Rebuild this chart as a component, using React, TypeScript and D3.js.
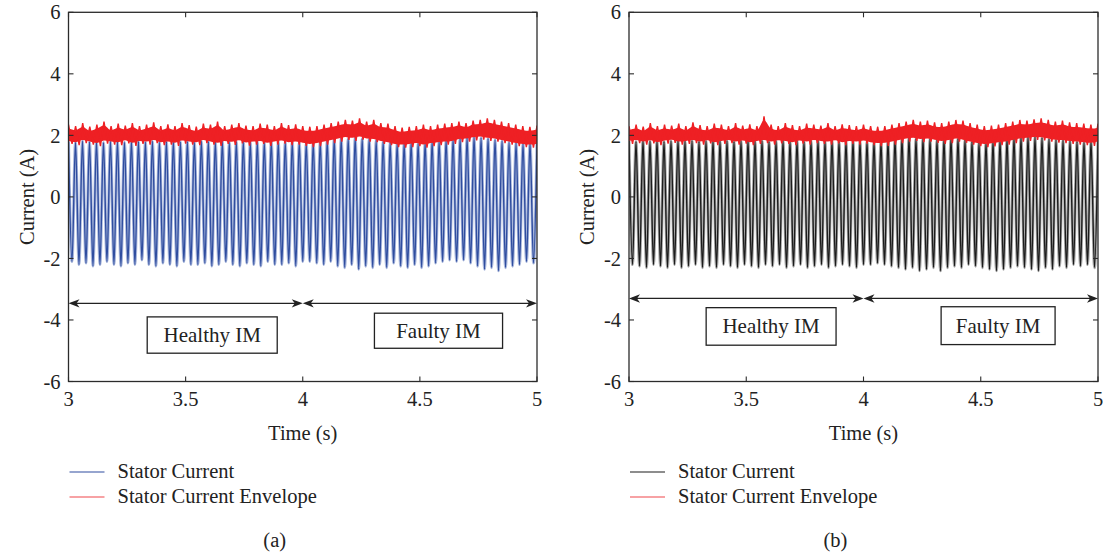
import React from "react";
import * as d3 from "d3";

// ---------- data ----------
const xTicks = [3, 3.5, 4, 4.5, 5];
const yTicks = [-6, -4, -2, 0, 2, 4, 6];
const tStart = 3;
const tEnd = 5;

// panel (a): per-cycle peaks / troughs of the stator current
const peaksA = [1.8,1.78,1.82,1.79,1.8,1.77,1.81,1.8,1.78,1.82,1.8,1.79,1.81,1.78,1.8,1.82,1.79,1.8,1.78,1.81,1.8,1.79,1.82,1.78,1.8,1.81,1.79,1.8,1.78,1.82,1.8,1.79,1.81,1.78,
  1.75,1.77,1.8,1.85,1.9,1.92,1.9,1.94,1.9,1.88,1.84,1.8,1.76,1.74,1.75,1.78,1.74,1.77,1.8,1.82,1.85,1.88,1.9,1.93,1.95,1.92,1.9,1.86,1.82,1.78,1.75,1.74,1.76];
const troughsA = [-2.1,-2.2,-2.15,-2.25,-2.2,-2.1,-2.2,-2.25,-2.15,-2.2,-2.05,-2.2,-2.25,-2.15,-2.2,-2.25,-2.1,-2.2,-2.2,-2.15,-2.25,-2.2,-2.1,-2.2,-2.25,-2.15,-2.2,-2.25,-2.1,-2.2,-2.2,-2.15,-2.25,-2.1,
  -2.1,-2.15,-2.2,-2.1,-2.25,-2.3,-2.2,-2.35,-2.25,-2.3,-2.2,-2.3,-2.15,-2.25,-2.3,-2.2,-2.3,-2.25,-2.15,-2.1,-2.05,-2.1,-2.05,-2.15,-2.25,-2.35,-2.3,-2.4,-2.3,-2.25,-2.2,-2.1,-2.15];
// panel (a): envelope upper / lower edges
const envHiA = [2.35,2.3,2.4,2.28,2.35,2.45,2.3,2.38,2.32,2.4,2.3,2.35,2.42,2.3,2.36,2.3,2.4,2.33,2.28,2.38,2.35,2.45,2.3,2.35,2.4,2.32,2.3,2.38,2.35,2.3,2.4,2.33,2.36,2.3,
  2.28,2.3,2.35,2.4,2.45,2.5,2.48,2.55,2.45,2.5,2.4,2.38,2.3,2.25,2.28,2.3,2.35,2.3,2.35,2.38,2.4,2.45,2.4,2.48,2.5,2.55,2.5,2.45,2.4,2.35,2.3,2.28,2.32];
const envLoA = [1.72,1.68,1.75,1.7,1.65,1.73,1.7,1.68,1.74,1.66,1.72,1.7,1.75,1.68,1.7,1.66,1.73,1.7,1.68,1.75,1.7,1.66,1.72,1.69,1.74,1.67,1.7,1.72,1.66,1.7,1.73,1.68,1.7,1.66,
  1.62,1.65,1.7,1.75,1.8,1.85,1.82,1.86,1.8,1.78,1.72,1.68,1.62,1.6,1.62,1.65,1.6,1.65,1.68,1.7,1.72,1.78,1.8,1.84,1.86,1.82,1.8,1.75,1.7,1.65,1.62,1.6,1.63];

// panel (b)
const peaksB = [1.82,1.8,1.84,1.81,1.83,1.8,1.82,1.84,1.81,1.83,1.8,1.82,1.84,1.81,1.83,1.8,1.82,1.84,1.81,1.83,1.8,1.82,1.84,1.81,1.83,1.8,1.82,1.84,1.81,1.83,1.8,1.82,1.84,1.81,
  1.8,1.78,1.8,1.84,1.88,1.92,1.94,1.9,1.92,1.88,1.85,1.88,1.92,1.9,1.85,1.8,1.76,1.78,1.8,1.84,1.88,1.92,1.94,1.96,1.95,1.92,1.88,1.86,1.84,1.82,1.8,1.78,1.82];
const troughsB = [-2.2,-2.25,-2.3,-2.2,-2.25,-2.3,-2.2,-2.3,-2.25,-2.2,-2.3,-2.25,-2.3,-2.2,-2.25,-2.3,-2.2,-2.25,-2.3,-2.2,-2.25,-2.2,-2.3,-2.25,-2.2,-2.3,-2.25,-2.2,-2.3,-2.25,-2.2,-2.25,-2.3,-2.2,
  -2.2,-2.15,-2.2,-2.25,-2.3,-2.35,-2.3,-2.4,-2.35,-2.3,-2.4,-2.3,-2.25,-2.3,-2.2,-2.25,-2.3,-2.35,-2.4,-2.35,-2.3,-2.25,-2.3,-2.35,-2.4,-2.3,-2.35,-2.25,-2.3,-2.2,-2.25,-2.2,-2.3];
const envHiB = [2.3,2.35,2.28,2.4,2.3,2.35,2.32,2.38,2.3,2.42,2.33,2.3,2.38,2.35,2.3,2.4,2.32,2.36,2.3,2.62,2.35,2.3,2.4,2.33,2.3,2.38,2.35,2.32,2.4,2.3,2.36,2.33,2.3,2.35,
  2.3,2.28,2.3,2.35,2.4,2.45,2.5,2.45,2.48,2.42,2.4,2.45,2.5,2.48,2.4,2.35,2.3,2.32,2.35,2.4,2.45,2.5,2.48,2.52,2.55,2.5,2.45,2.48,2.42,2.4,2.38,2.35,2.38];
const envLoB = [1.72,1.75,1.7,1.74,1.68,1.73,1.76,1.7,1.72,1.75,1.7,1.74,1.68,1.72,1.75,1.7,1.73,1.68,1.72,1.75,1.7,1.74,1.72,1.68,1.73,1.7,1.75,1.72,1.7,1.74,1.68,1.72,1.7,1.73,
  1.68,1.65,1.66,1.7,1.75,1.8,1.82,1.78,1.8,1.76,1.72,1.75,1.8,1.76,1.7,1.65,1.62,1.64,1.68,1.7,1.75,1.8,1.82,1.85,1.84,1.8,1.76,1.75,1.72,1.7,1.68,1.66,1.7];

// annotations: [t0, t1, v0, v1]
const boxLabels = ["Healthy IM", "Faulty IM"];
const boxesA = [[3.336, 3.891, -3.9, -5.08], [4.306, 4.853, -3.78, -4.92]];
const boxesB = [[3.329, 3.883, -3.6, -4.82], [4.331, 4.817, -3.57, -4.8]];
const arrowSpans = [[3, 4], [4, 5]];
const arrowLevelA = -3.46;
const arrowLevelB = -3.3;

const legendLabels = ["Stator Current", "Stator Current Envelope"];

// ---------- drawing ----------
const FONT = "'Liberation Serif', 'DejaVu Serif', serif";
const FS = 20.5;
const RED = "#ee2024";
const AXIS = "#2b2b2b";

function Arrow({ x1, x2, y }) {
  const head = (tip, dir) => {
    const L = 11, W = 4.2, N = 8;
    return `M${tip},${y} L${tip - dir * L},${y - W} L${tip - dir * N},${y} L${tip - dir * L},${y + W} Z`;
  };
  return (
    <g>
      <line x1={x1 + 3} x2={x2 - 3} y1={y} y2={y} stroke="#222" strokeWidth={1.3} />
      <path d={head(x1, -1)} fill="#222" />
      <path d={head(x2, 1)} fill="#222" />
    </g>
  );
}

function Panel({ left, right, peaks, troughs, envHi, envLo, curColor, curLight, boxes, arrowLevel, tag, id }) {
  const top = 12.3;
  const bottom = 381.5;
  const x = d3.scaleLinear().domain([tStart, tEnd]).range([left, right]);
  const y = d3.scaleLinear().domain([-6, 6]).range([bottom, top]);

  const n = troughs.length;
  const period = (tEnd - tStart) / n;
  const cur = [];
  for (let i = 0; i < n; i++) {
    cur.push([tStart + i * period, peaks[i]]);
    cur.push([tStart + (i + 0.5) * period, troughs[i]]);
  }
  cur.push([tEnd, peaks[n - 1]]);
  const curPath = d3.line().x((d) => x(d[0])).y((d) => y(d[1])).curve(d3.curveMonotoneX)(cur);

  const m = envHi.length;
  const step = (tEnd - tStart) / (m - 1);
  const envIdx = d3.range(m);
  const envArea = d3.area()
    .x((i) => x(tStart + i * step))
    .y0((i) => y(envLo[i] + 0.1))
    .y1((i) => y(envHi[i] - 0.13))
    .curve(d3.curveMonotoneX)(envIdx);
  const zz = [];
  for (let i = 0; i < m; i++) {
    zz.push([tStart + i * step, envHi[i]]);
    if (i < m - 1) zz.push([tStart + (i + 0.5) * step, envLo[i]]);
  }
  const zzPath = d3.line().x((d) => x(d[0])).y((d) => y(d[1]))(zz);

  const tick = 5;
  const cx = (left + right) / 2;
  return (
    <g>
      <defs>
        <clipPath id={id}>
          <rect x={left} y={top} width={right - left} height={bottom - top} />
        </clipPath>
      </defs>
      <g clipPath={`url(#${id})`}>
        <path d={curPath} fill="none" stroke={curLight} strokeWidth={3} />
        <path d={curPath} fill="none" stroke={curColor} strokeWidth={1.4} />
        <path d={envArea} fill={RED} />
        <path d={zzPath} fill="none" stroke={RED} strokeWidth={1.4} />
      </g>
      {/* frame */}
      <rect x={left} y={top} width={right - left} height={bottom - top} fill="none" stroke={AXIS} strokeWidth={1.3} />
      {yTicks.map((v) => (
        <g key={"y" + v}>
          <line x1={left} x2={left + tick} y1={y(v)} y2={y(v)} stroke={AXIS} strokeWidth={1.1} />
          <line x1={right} x2={right - tick} y1={y(v)} y2={y(v)} stroke={AXIS} strokeWidth={1.1} />
          <text x={left - 8} y={y(v)} dy="0.35em" textAnchor="end" fontSize={FS} fontFamily={FONT} fill="#222">{v}</text>
        </g>
      ))}
      {xTicks.map((v) => (
        <g key={"x" + v}>
          <line x1={x(v)} x2={x(v)} y1={bottom} y2={bottom - tick} stroke={AXIS} strokeWidth={1.1} />
          <line x1={x(v)} x2={x(v)} y1={top} y2={top + tick} stroke={AXIS} strokeWidth={1.1} />
          <text x={x(v)} y={406} textAnchor="middle" fontSize={FS} fontFamily={FONT} fill="#222">{v}</text>
        </g>
      ))}
      <text x={cx} y={440} textAnchor="middle" fontSize={FS} fontFamily={FONT} fill="#222">Time (s)</text>
      <text transform={`translate(${left - 35},${(top + bottom) / 2}) rotate(-90)`} textAnchor="middle" fontSize={FS} fontFamily={FONT} fill="#222">Current (A)</text>

      {arrowSpans.map((s, i) => (
        <Arrow key={"a" + i} x1={x(s[0])} x2={x(s[1])} y={y(arrowLevel)} />
      ))}
      {boxes.map((b, i) => (
        <g key={"b" + i}>
          <rect x={x(b[0])} y={y(b[2])} width={x(b[1]) - x(b[0])} height={y(b[3]) - y(b[2])} fill="#fff" stroke="#222" strokeWidth={1.3} />
          <text x={(x(b[0]) + x(b[1])) / 2} y={(y(b[2]) + y(b[3])) / 2} dy="0.33em" textAnchor="middle" fontSize={FS + 0.5} fontFamily={FONT} fill="#222">{boxLabels[i]}</text>
        </g>
      ))}

      {/* legend */}
      {legendLabels.map((lab, i) => (
        <g key={"l" + i}>
          <line x1={left + 1} x2={left + 36} y1={472 + i * 25} y2={472 + i * 25} stroke={i === 0 ? curColor : "#f0474a"} strokeWidth={1.2} />
          <text x={left + 49} y={478 + i * 25} fontSize={FS} fontFamily={FONT} fill="#222">{lab}</text>
        </g>
      ))}
      <text x={cx - 28} y={547} textAnchor="middle" fontSize={FS} fontFamily={FONT} fill="#222">{tag}</text>
    </g>
  );
}

export default function App() {
  return (
    <svg width={1103} height={555} style={{ position: "absolute", left: 0, top: 0, background: "#fff" }}>
      <rect width={1103} height={555} fill="#fff" />
      <Panel id="clipA" left={68.5} right={537} peaks={peaksA} troughs={troughsA} envHi={envHiA} envLo={envLoA}
        curColor="#2f4d9f" curLight="#a9b7dc" boxes={boxesA} arrowLevel={arrowLevelA} tag="(a)" />
      <Panel id="clipB" left={629} right={1098} peaks={peaksB} troughs={troughsB} envHi={envHiB} envLo={envLoB}
        curColor="#1c1c1c" curLight="#a8a8a8" boxes={boxesB} arrowLevel={arrowLevelB} tag="(b)" />
    </svg>
  );
}
